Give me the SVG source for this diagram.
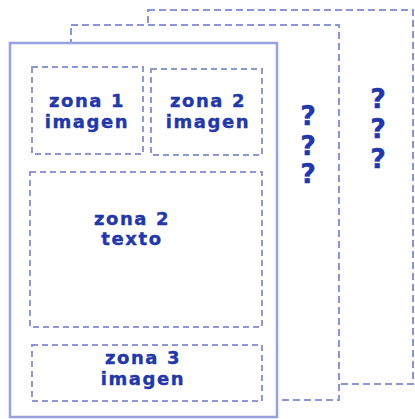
<svg xmlns="http://www.w3.org/2000/svg" width="415" height="419" viewBox="0 0 415 419">
<style>
.page{fill:#fff;stroke:#8b95d8;stroke-width:2;stroke-dasharray:7 4}
.main{fill:#fff;stroke:#97a2de;stroke-width:2.5}
.zone{fill:none;stroke:#8f98d4;stroke-width:2;stroke-dasharray:6 4}
.t{font-family:"DejaVu Sans",Verdana,sans-serif;font-weight:bold;font-size:18px;fill:#2338a6;stroke:#2338a6;stroke-width:0.4;text-anchor:middle;letter-spacing:1.6px}
.q{font-family:"DejaVu Sans",Verdana,sans-serif;font-weight:bold;font-size:27px;fill:#2338a6;stroke:#2338a6;stroke-width:0.4;text-anchor:middle}
</style>
<rect width="415" height="419" fill="#fff"/>
<g id="page3">
<rect class="page" x="148" y="10" width="265" height="374"/>
<text class="q" x="378" y="108">?</text>
<text class="q" x="378" y="138">?</text>
<text class="q" x="378" y="168">?</text>
</g>
<g id="page2">
<rect class="page" x="71" y="25" width="268" height="375"/>
<text class="q" x="308" y="125">?</text>
<text class="q" x="308" y="155">?</text>
<text class="q" x="308" y="183">?</text>
</g>
<g id="page1">
<rect class="main" x="10" y="43" width="267" height="374"/>
</g>
<g id="zona1imagen">
<rect class="zone" x="32" y="67" width="111" height="87"/>
<text class="t" x="87" y="107">zona 1</text>
<text class="t" x="87" y="128">imagen</text>
</g>
<g id="zona2imagen">
<rect class="zone" x="151" y="69" width="111" height="86"/>
<text class="t" x="208" y="107">zona 2</text>
<text class="t" x="208" y="128">imagen</text>
</g>
<g id="zona2texto">
<rect class="zone" x="30" y="172" width="232" height="155"/>
<text class="t" x="132" y="225">zona 2</text>
<text class="t" x="132" y="245">texto</text>
</g>
<g id="zona3imagen">
<rect class="zone" x="32" y="345" width="230" height="56"/>
<text class="t" x="143" y="364">zona 3</text>
<text class="t" x="143" y="385">imagen</text>
</g>
</svg>
